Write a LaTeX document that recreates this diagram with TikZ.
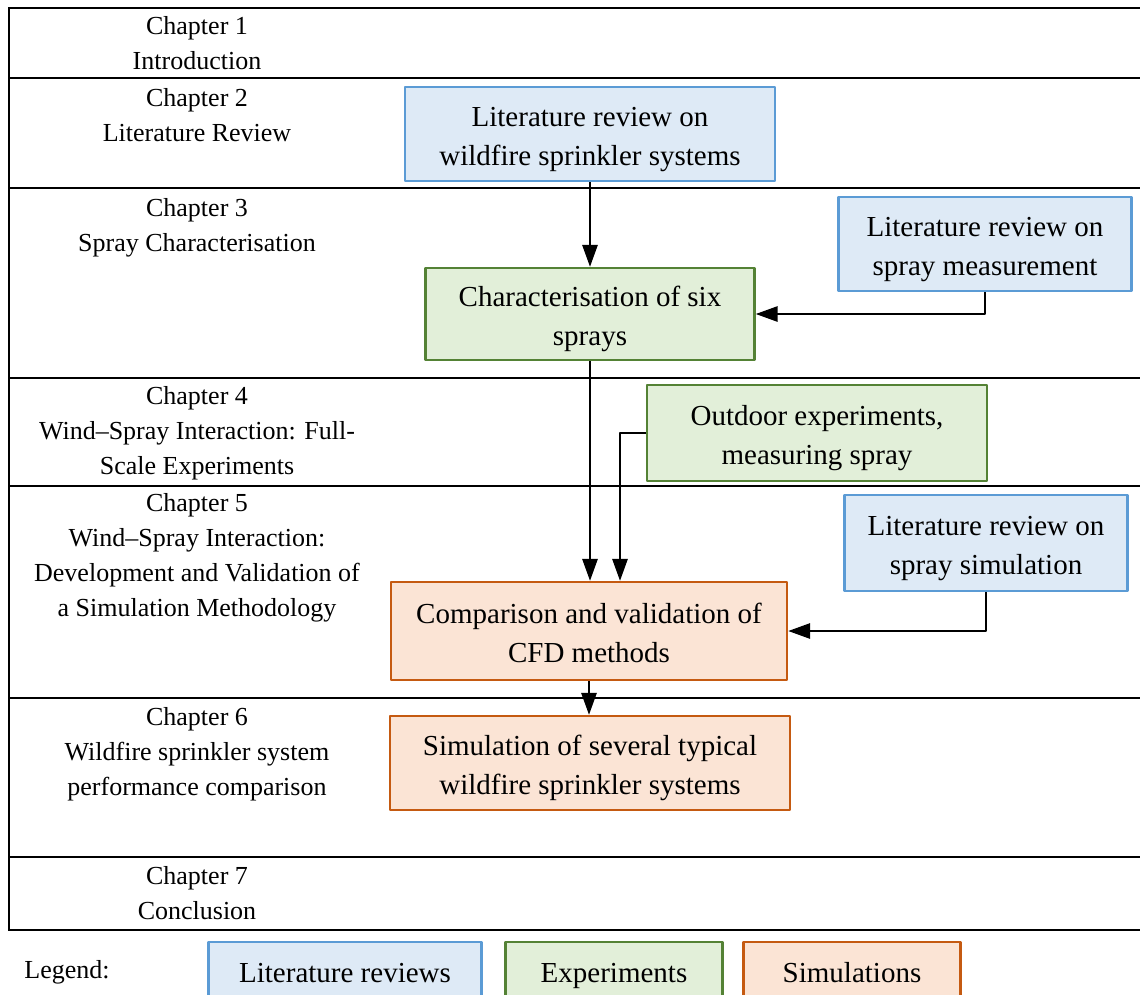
\documentclass[tikz,border=0pt]{standalone}
\usepackage{fontspec}
\setmainfont{Liberation Serif}
\usetikzlibrary{arrows.meta}
\definecolor{revfill}{HTML}{DEEAF6}\definecolor{revline}{HTML}{5B9BD5}
\definecolor{expfill}{HTML}{E2EFD9}\definecolor{expline}{HTML}{548235}
\definecolor{simfill}{HTML}{FBE4D5}\definecolor{simline}{HTML}{C55A11}
\newcommand{\up}{\rule{0pt}{32pt}}
\newcommand{\dn}{\rule[-8pt]{0pt}{8pt}}
\begin{document}
\begin{tikzpicture}[x=1pt, y=-1pt, line join=round, >={Triangle[length=22pt,width=15pt]},
    chap/.style={anchor=north, align=center, inner sep=0pt, font=\fontsize{26}{35}\selectfont},
    box/.style={draw, line width=2.2pt, align=center, inner sep=0pt, font=\fontsize{29}{38.5}\selectfont},
    rev/.style={box, draw=revline, fill=revfill},
    expt/.style={box, draw=expline, fill=expfill},
    simu/.style={box, draw=simline, fill=simfill},
    link/.style={->, line width=2.8pt}]
    \useasboundingbox (0,0) rectangle (1140,994);
    % table
    \foreach \y in {8,78,188,378,486,698,857,930}\draw[line width=2.2pt] (9,\y)--(1140,\y);
    \draw[line width=2.2pt] (9,7)--(9,931);
    \node[chap] (c1) at (197,16) {Chapter 1\\Introduction};
    \node[chap] (c2) at (197,88) {Chapter 2\\Literature Review};
    \node[chap] (c3) at (197,198) {Chapter 3\\Spray Characterisation};
    \node[chap] (c4) at (197,386) {Chapter 4\\Wind--Spray Interaction: Full-\\Scale Experiments};
    \node[chap] (c5) at (197,493) {Chapter 5\\Wind--Spray Interaction:\\Development and Validation of\\a Simulation Methodology};
    \node[chap] (c6) at (197,707) {Chapter 6\\Wildfire sprinkler system\\performance comparison};
    \node[chap] (c7) at (197,866) {Chapter 7\\Conclusion};
    % boxes
    \node[rev, minimum width=370, minimum height=94] (lr1) at (590,134) {\up Literature review on\\wildfire sprinkler systems\dn};
    \node[rev, minimum width=293, minimum height=94] (lr2) at (985,244) {\up Literature review on\\spray measurement\dn};
    \node[expt, minimum width=329, minimum height=92] (chr) at (590,314) {\up Characterisation of six\\sprays\dn};
    \node[expt, minimum width=340, minimum height=96] (out) at (817,433) {\up Outdoor experiments,\\measuring spray\dn};
    \node[rev, minimum width=283, minimum height=96] (lr3) at (986,543) {\up Literature review on\\spray simulation\dn};
    \node[simu, minimum width=396, minimum height=98] (cfd) at (589,631) {\up Comparison and validation of\\CFD methods\dn};
    \node[simu, minimum width=400, minimum height=94] (sim) at (590,763) {\up Simulation of several typical\\wildfire sprinkler systems\dn};
    % arrows
    \draw[link] (lr1.south) -- (lr1.south |- chr.north);
    \draw[link] (lr2.south) |- (chr.east);
    \draw[link] (chr.south) -- (chr.south |- cfd.north);
    \draw[link] (out.west) -| ([xshift=31pt]cfd.north);
    \draw[link] (lr3.south) |- (cfd.east);
    \draw[link] (cfd.south) -- (cfd.south |- sim.north);
    % legend
    \node[inner sep=0pt, font=\fontsize{26}{30}\selectfont] (leg) at (67,972) {Legend:};
    \node[rev, minimum width=273, minimum height=56] (lgr) at (345,970) {\up Literature reviews\dn};
    \node[expt, minimum width=217, minimum height=56] (lge) at (614,970) {\up Experiments\dn};
    \node[simu, minimum width=217, minimum height=56] (lgs) at (852,970) {\up Simulations\dn};
\end{tikzpicture}
\end{document}
